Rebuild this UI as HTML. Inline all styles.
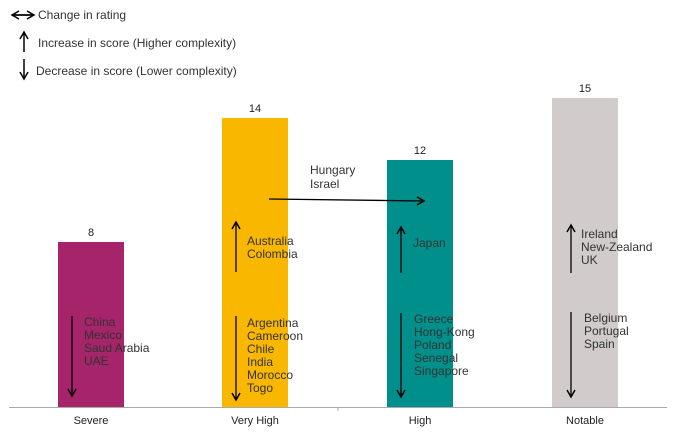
<!DOCTYPE html>
<html><head><style>
body{margin:0;background:#fff;width:675px;height:436px;overflow:hidden}
svg{font-family:"Liberation Sans",Arial,sans-serif}
</style></head><body>
<svg width="675" height="436" xmlns="http://www.w3.org/2000/svg">
<defs>
<marker id="a" markerWidth="10" markerHeight="10" refX="8" refY="5" orient="auto" markerUnits="userSpaceOnUse">
<path d="M1,1 L8,5 L1,9" fill="none" stroke="#000" stroke-width="1.5"/></marker>
</defs>
<g stroke="#000" stroke-width="1.5" fill="none">
<line x1="14" y1="15" x2="34" y2="15" marker-end="url(#a)"/>
<line x1="32" y1="15" x2="12" y2="15" marker-end="url(#a)"/>
<line x1="24" y1="52" x2="24" y2="32" marker-end="url(#a)"/>
<line x1="24" y1="59" x2="24" y2="79" marker-end="url(#a)"/>
</g>
<g font-size="12" fill="#333">
<text x="38" y="19">Change in rating</text>
<text x="38" y="47">Increase in score (Higher complexity)</text>
<text x="36" y="75">Decrease in score (Lower complexity)</text>
</g>
<rect x="58" y="242" width="66" height="165" fill="#a5246a"/>
<rect x="222" y="118" width="66" height="289" fill="#f9b700"/>
<rect x="387" y="160" width="66" height="247" fill="#008f8a"/>
<rect x="552" y="98" width="66" height="309" fill="#d1cbcb"/>
<line x1="9" y1="407.5" x2="667" y2="407.5" stroke="#aaa"/>
<line x1="338" y1="407" x2="338" y2="411" stroke="#aaa"/>
<g font-size="11" fill="#222" text-anchor="middle">
<text x="91" y="236">8</text><text x="255" y="112">14</text><text x="420" y="154">12</text><text x="585" y="92">15</text>
<text x="91" y="424">Severe</text><text x="255" y="424">Very High</text><text x="420" y="424">High</text><text x="585" y="424">Notable</text>
</g>
<g stroke="#000" stroke-width="1.3" fill="none">
<line x1="72" y1="316" x2="72" y2="396" marker-end="url(#a)"/>
<line x1="236" y1="316" x2="236" y2="400" marker-end="url(#a)"/>
<line x1="401" y1="313" x2="401" y2="397" marker-end="url(#a)"/>
<line x1="571" y1="312" x2="571" y2="397" marker-end="url(#a)"/>
<line x1="236" y1="272" x2="236" y2="222" marker-end="url(#a)"/>
<line x1="401" y1="273" x2="401" y2="227" marker-end="url(#a)"/>
<line x1="571" y1="273" x2="571" y2="225" marker-end="url(#a)"/>
<line x1="269" y1="199" x2="424" y2="201" marker-end="url(#a)"/>
</g>
<g font-size="12" fill="#333">
<text x="84" y="326">China</text><text x="84" y="339">Mexico</text><text x="84" y="352">Saud Arabia</text><text x="84" y="365">UAE</text>
<text x="247" y="327">Argentina</text><text x="247" y="340">Cameroon</text><text x="247" y="353">Chile</text><text x="247" y="366">India</text><text x="247" y="379">Morocco</text><text x="247" y="392">Togo</text>
<text x="247" y="245">Australia</text><text x="247" y="258">Colombia</text>
<text x="310" y="174">Hungary</text><text x="310" y="188">Israel</text>
<text x="413" y="247">Japan</text>
<text x="414" y="323">Greece</text><text x="414" y="336">Hong-Kong</text><text x="414" y="349">Poland</text><text x="414" y="362">Senegal</text><text x="414" y="375">Singapore</text>
<text x="581" y="238">Ireland</text><text x="581" y="251">New-Zealand</text><text x="581" y="264">UK</text>
<text x="584" y="322">Belgium</text><text x="584" y="335">Portugal</text><text x="584" y="348">Spain</text>
</g>
</svg>
</body></html>
